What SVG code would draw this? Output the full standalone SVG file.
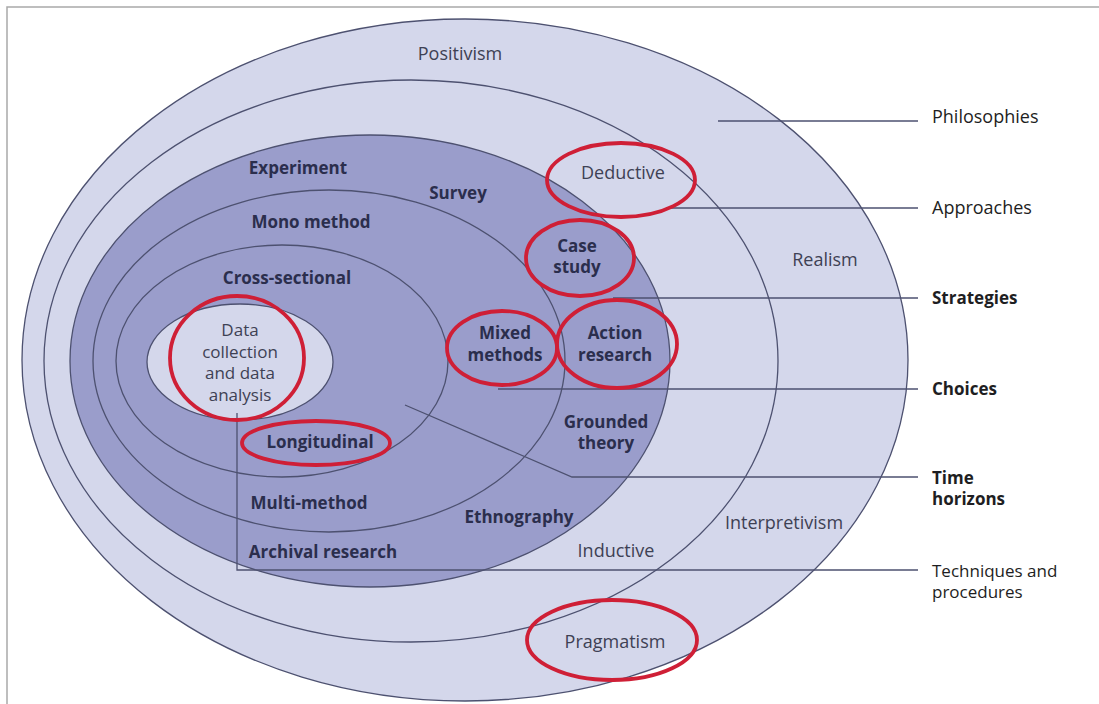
<svg xmlns="http://www.w3.org/2000/svg" width="1099" height="704" viewBox="0 0 1099 704">
<style>
.ring{stroke:#4d5170;stroke-width:1.3}
.light{fill:#d4d7eb}
.dark{fill:#9a9dcb}
.open{fill:none}
.conn{stroke:#4d5170;stroke-width:1.3;fill:none}
.hl{fill:none;stroke:#cf1f36;stroke-width:3.8}
text{font-family:"Open Sans","Noto Sans","Liberation Sans",sans-serif;font-size:18px;text-anchor:middle}
.in{fill:#2b2e4d;font-weight:bold;font-size:17px}
.reg{fill:#3e4154}
.multi{font-size:17px}
.side{fill:#1e1e22;text-anchor:start}
.sideb{fill:#1e1e22;text-anchor:start;font-weight:bold;font-size:17px}
</style>
<rect x="0" y="0" width="1099" height="704" fill="#ffffff"/>
<path d="M7 704 V7 H1099" fill="none" stroke="#a9a9a9" stroke-width="1.5"/>
<g id="ring-philosophies"><ellipse class="ring light" cx="465" cy="360" rx="443" ry="341"/></g>
<g id="ring-approaches"><ellipse class="ring light" cx="411" cy="361" rx="367" ry="281"/></g>
<g id="ring-strategies"><ellipse class="ring dark" cx="370" cy="361" rx="300" ry="226"/></g>
<g id="ring-choices"><ellipse class="ring open" cx="329" cy="361" rx="236" ry="171"/></g>
<g id="ring-time-horizons"><ellipse class="ring open" cx="282" cy="361" rx="166" ry="116"/></g>
<g id="core-techniques"><ellipse class="ring light" cx="240" cy="362" rx="93" ry="58"/></g>
<g id="connectors">
<path class="conn" d="M718 121 H918"/>
<path class="conn" d="M668 208 H918"/>
<path class="conn" d="M613 298 H918"/>
<path class="conn" d="M498 389 H918"/>
<path class="conn" d="M405 405 L572 477 H918"/>
<path class="conn" d="M237 413 V570 H918"/>
</g>
<g id="ring-texts">
<text class="reg" x="460" y="60">Positivism</text>
<text class="reg" x="825" y="266">Realism</text>
<text class="reg" x="784" y="529">Interpretivism</text>
<text class="reg" x="616" y="557">Inductive</text>
<text class="reg" x="623" y="179">Deductive</text>
<text class="reg" x="615" y="648">Pragmatism</text>
<text class="in" x="298" y="174">Experiment</text>
<text class="in" x="458" y="199">Survey</text>
<text class="in" x="311" y="228">Mono method</text>
<text class="in" x="287" y="284">Cross-sectional</text>
<text class="in" x="577" y="252">Case</text>
<text class="in" x="577" y="273">study</text>
<text class="in" x="505" y="339">Mixed</text>
<text class="in" x="505" y="361">methods</text>
<text class="in" x="615" y="339">Action</text>
<text class="in" x="615" y="361">research</text>
<text class="in" x="606" y="428">Grounded</text>
<text class="in" x="606" y="449">theory</text>
<text class="in" x="320" y="448">Longitudinal</text>
<text class="in" x="309" y="509">Multi-method</text>
<text class="in" x="519" y="523">Ethnography</text>
<text class="in" x="323" y="558">Archival research</text>
<text class="reg multi" x="240" y="336">Data</text>
<text class="reg multi" x="240" y="358">collection</text>
<text class="reg multi" x="240" y="379">and data</text>
<text class="reg multi" x="240" y="401">analysis</text>
</g>
<g id="layer-labels">
<text class="side" x="932" y="123">Philosophies</text>
<text class="side" x="932" y="214">Approaches</text>
<text class="sideb" x="932" y="304">Strategies</text>
<text class="sideb" x="932" y="395">Choices</text>
<text class="sideb" x="932" y="484">Time</text>
<text class="sideb" x="932" y="505">horizons</text>
<text class="side multi" x="932" y="577">Techniques and</text>
<text class="side multi" x="932" y="598">procedures</text>
</g>
<g id="highlights">
<ellipse class="hl" cx="621" cy="180" rx="74" ry="37"/>
<ellipse class="hl" cx="580" cy="258" rx="54" ry="38"/>
<ellipse class="hl" cx="502" cy="348" rx="55" ry="37"/>
<ellipse class="hl" cx="617" cy="344" rx="60" ry="44"/>
<ellipse class="hl" cx="237" cy="358" rx="67" ry="62"/>
<ellipse class="hl" cx="316" cy="443" rx="74" ry="22"/>
<ellipse class="hl" cx="612" cy="640" rx="85" ry="40"/>
</g>
</svg>
